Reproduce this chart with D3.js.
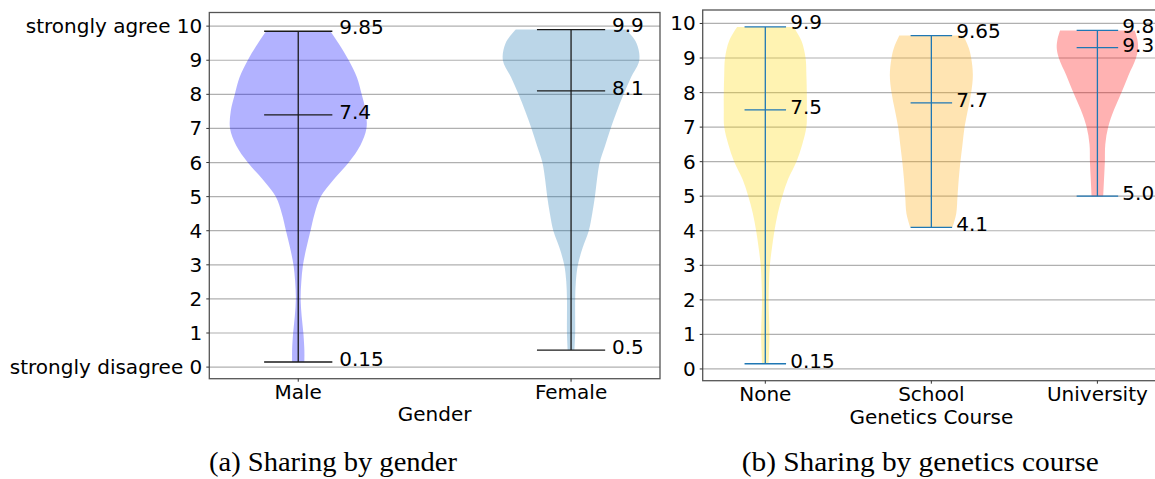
<!DOCTYPE html>
<html><head><meta charset="utf-8">
<script src="https://cdn.jsdelivr.net/npm/d3@7"></script>
<style>body{margin:0;background:#fff} svg{display:block}</style>
</head><body>
<svg id="chart" width="1155" height="479"></svg>
<script>
// ---------- data ----------
const genderCategories = ["Male", "Female"];
const genderMin = [0.15, 0.5];
const genderMedian = [7.4, 8.1];
const genderMax = [9.85, 9.9];
// [score, relative half-width of violin]
const maleDensity = [[0.15,0.09],[0.5,0.09],[1,0.075],[1.5,0.05],[2,0.035],[2.5,0.045],[3,0.07],[3.5,0.12],[4,0.18],[4.5,0.24],[5,0.33],[5.5,0.52],[6,0.74],[6.5,0.91],[7,1.0],[7.5,0.99],[8,0.93],[8.5,0.86],[9,0.74],[9.5,0.59],[9.85,0.47]];
const femaleDensity = [[0.5,0.05],[1,0.06],[1.5,0.06],[2,0.06],[2.5,0.07],[3,0.1],[3.5,0.17],[4,0.26],[4.5,0.31],[5,0.35],[5.5,0.38],[6,0.42],[6.5,0.5],[7,0.58],[7.5,0.67],[8,0.77],[8.5,0.88],[9,1.0],[9.5,0.96],[9.9,0.81]];

const courseCategories = ["None", "School", "University"];
const courseMin = [0.15, 4.1, 5.0];
const courseMedian = [7.5, 7.7, 9.3];
const courseMax = [9.9, 9.65, 9.8];
const noneDensity = [[0.15,0.08],[0.5,0.09],[1,0.1],[1.5,0.09],[2,0.08],[2.5,0.09],[3,0.11],[3.5,0.16],[4,0.22],[4.5,0.3],[5,0.41],[5.5,0.55],[6,0.75],[6.5,0.89],[7,0.99],[7.5,1.0],[8,1.0],[8.5,0.99],[9,0.97],[9.5,0.87],[9.9,0.68]];
const schoolDensity = [[4.1,0.51],[4.5,0.6],[5,0.63],[5.5,0.66],[6,0.7],[6.5,0.75],[7,0.8],[7.5,0.88],[8,0.96],[8.5,1.0],[9,0.96],[9.3,0.9],[9.65,0.77]];
const universityDensity = [[5.0,0.14],[5.5,0.16],[6,0.18],[6.5,0.19],[7,0.26],[7.5,0.4],[8,0.58],[8.5,0.75],[9,0.93],[9.3,0.98],[9.55,0.96],[9.8,0.9]];

const yTicks = [0,1,2,3,4,5,6,7,8,9,10];
const genderYTickLabels = ["strongly disagree 0","1","2","3","4","5","6","7","8","9","strongly agree 10"];
const courseYTickLabels = ["0","1","2","3","4","5","6","7","8","9","10"];
const genderTitle = "Gender";
const courseTitle = "Genetics Course";
const captions = ["(a) Sharing by gender", "(b) Sharing by genetics course"];

// ---------- drawing ----------
const svg = d3.select("#chart");
const FONT = "DejaVu Sans";
const FS = 20;
const fmt = v => Number.isInteger(v) ? v.toFixed(1) : String(v);

function drawPanel(o) {
  const x = d3.scaleLinear().domain(o.xDomain).range([o.left, o.right]);
  const y = d3.scaleLinear().domain(o.yDomain).range([o.bottom, o.top]);
  const g = svg.append("g");
  const unit = x(1) - x(0);

  // grid
  g.append("g").selectAll("line").data(yTicks).join("line")
    .attr("x1", o.left).attr("x2", o.right)
    .attr("y1", d => y(d)).attr("y2", d => y(d))
    .attr("stroke", "#b0b0b0").attr("stroke-width", 1.2);

  // violins
  o.categories.forEach((c, i) => {
    const cx = x(i + 1);
    const w = 0.25 * unit;
    const area = d3.area()
      .y(d => y(d[0]))
      .x0(d => cx - w * d[1])
      .x1(d => cx + w * d[1])
      .curve(d3.curveCatmullRom.alpha(0.5));
    g.append("path").datum(o.densities[i])
      .attr("d", area)
      .attr("fill", o.fills[i]).attr("fill-opacity", 0.3);
  });

  // bars, caps, labels
  o.categories.forEach((c, i) => {
    const cx = x(i + 1);
    const h = 0.125 * unit;
    g.append("line").attr("x1", cx).attr("x2", cx)
      .attr("y1", y(o.mins[i])).attr("y2", y(o.maxs[i]))
      .attr("stroke", o.lineColor).attr("stroke-width", 1.3);
    [[o.mins[i], 3], [o.medians[i], 2.5], [o.maxs[i], 4.5]].forEach(([v, up]) => {
      g.append("line").attr("x1", cx - h).attr("x2", cx + h)
        .attr("y1", y(v)).attr("y2", y(v))
        .attr("stroke", o.lineColor).attr("stroke-width", 1.3);
      g.append("text").attr("x", x(i + 1 + 0.15)).attr("y", y(v) - up)
        .attr("dominant-baseline", "central")
        .attr("font-family", FONT).attr("font-size", FS).attr("fill", "#000")
        .text(fmt(v));
    });
  });

  // spines
  g.append("rect").attr("x", o.left).attr("y", o.top)
    .attr("width", o.right - o.left).attr("height", o.bottom - o.top)
    .attr("fill", "none").attr("stroke", "#555").attr("stroke-width", 1.3);

  // y ticks
  yTicks.forEach((t, k) => {
    g.append("line").attr("x1", o.left - 3).attr("x2", o.left)
      .attr("y1", y(t)).attr("y2", y(t)).attr("stroke", "#333").attr("stroke-width", 1);
    g.append("text").attr("x", o.left - 7).attr("y", y(t))
      .attr("text-anchor", "end").attr("dominant-baseline", "central")
      .attr("font-family", FONT).attr("font-size", FS).attr("fill", "#000")
      .text(o.yLabels[k]);
  });

  // x ticks
  o.categories.forEach((c, i) => {
    const cx = x(i + 1);
    g.append("line").attr("x1", cx).attr("x2", cx)
      .attr("y1", o.bottom).attr("y2", o.bottom + 3).attr("stroke", "#333").attr("stroke-width", 1);
    g.append("text").attr("x", cx).attr("y", o.bottom + 20.5)
      .attr("text-anchor", "middle")
      .attr("font-family", FONT).attr("font-size", FS).attr("fill", "#000")
      .text(c);
  });

  // axis title
  g.append("text").attr("x", x((o.xDomain[0] + o.xDomain[1]) / 2)).attr("y", o.titleY)
    .attr("text-anchor", "middle")
    .attr("font-family", FONT).attr("font-size", FS).attr("fill", "#000")
    .text(o.title);

  // caption
  g.append("text").attr("x", o.capX).attr("y", 471)
    .attr("font-family", "Liberation Serif").attr("font-size", 27).attr("fill", "#000")
    .attr("textLength", o.capLen).attr("lengthAdjust", "spacingAndGlyphs")
    .text(o.caption);
}

drawPanel({
  left: 209.3, right: 660, top: 12.5, bottom: 378.7,
  xDomain: [0.674, 2.326], yDomain: [-0.34, 10.4],
  categories: genderCategories, mins: genderMin, medians: genderMedian, maxs: genderMax,
  densities: [maleDensity, femaleDensity],
  fills: ["blue", "#1f77b4"], lineColor: "#1a1a1a",
  yLabels: genderYTickLabels, title: genderTitle, titleY: 421,
  caption: captions[0], capX: 209, capLen: 248
});

drawPanel({
  left: 702.7, right: 1160, top: 10, bottom: 380.7,
  xDomain: [0.623, 3.377], yDomain: [-0.34, 10.39],
  categories: courseCategories, mins: courseMin, medians: courseMedian, maxs: courseMax,
  densities: [noneDensity, schoolDensity, universityDensity],
  fills: ["gold", "orange", "red"], lineColor: "#1f77b4",
  yLabels: courseYTickLabels, title: courseTitle, titleY: 424,
  caption: captions[1], capX: 741.7, capLen: 357
});
</script>
</body></html>
